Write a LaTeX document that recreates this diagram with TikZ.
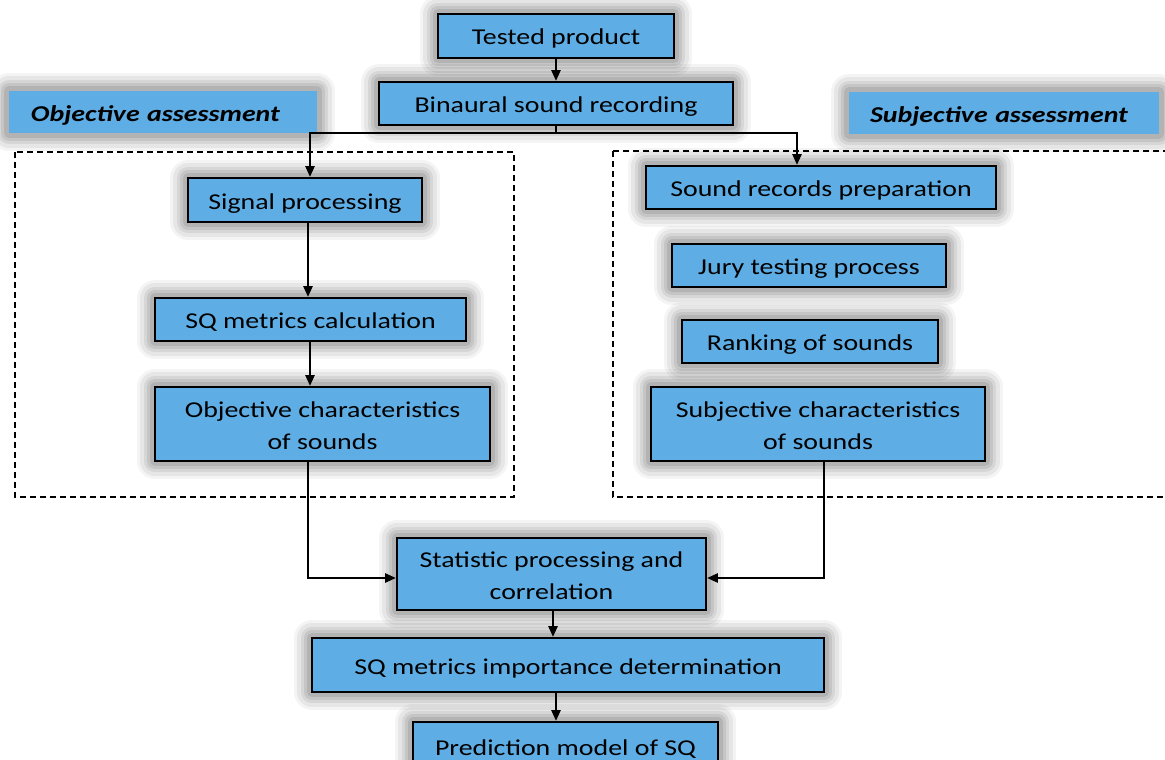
\documentclass[tikz,border=0pt]{standalone}
\usepackage{fontspec}
\setmainfont{Carlito}[FakeStretch=1.23]
\usetikzlibrary{arrows.meta}
\definecolor{boxblue}{RGB}{94,173,228}
\tikzset{
  shad/.style={
    preaction={draw=black,draw opacity=0.045,line width=27pt,line join=round},
    preaction={draw=black,draw opacity=0.06,line width=22pt,line join=round},
    preaction={draw=black,draw opacity=0.07,line width=17pt,line join=round},
    preaction={draw=black,draw opacity=0.08,line width=12pt,line join=round},
    preaction={draw=black,draw opacity=0.09,line width=7pt,line join=round}},
  flowbox/.style={shad,rectangle,fill=boxblue,draw=black,line width=1.8pt,
    inner sep=0pt,align=center,font=\fontsize{17pt}{24pt}\selectfont},
  onel/.style={text height=14.5pt,text depth=1pt},
  twol/.style={text height=38.5pt,text depth=1pt},
  headlabel/.style={shad,rectangle,fill=boxblue,inner ysep=0pt,align=left,onel,
    minimum height=31.5pt,font=\fontsize{17pt}{22pt}\selectfont\bfseries\itshape},
  arr/.style={line width=1.1pt,-{Triangle[length=8pt,width=7pt]}},
  conn/.style={line width=1.1pt},
  dashbox/.style={draw=black,line width=0.9pt,dash pattern=on 4.5pt off 3pt}
}
\begin{document}
\begin{tikzpicture}[x=0.75pt,y=-0.75pt]
\useasboundingbox (0,0) rectangle (1165,760);
\draw[dashbox] (15,152) rectangle (514,497);
\draw[dashbox] (613,151) rectangle (1180,497);

\node[headlabel,text width=198pt,inner xsep=16.5pt] (objlab) at (163,112) {Objective assessment};
\node[headlabel,text width=201pt,inner xsep=15.75pt] (sublab) at (1004,113) {Subjective assessment};

\node[flowbox,onel,minimum width=177pt,minimum height=33pt] (tp) at (556,36) {Tested product};
\node[flowbox,onel,minimum width=265.5pt,minimum height=32.25pt] (bin) at (556,103.5) {Binaural sound recording};
\node[flowbox,onel,minimum width=175.5pt,minimum height=33pt] (sig) at (305,200) {Signal processing};
\node[flowbox,onel,minimum width=233.25pt,minimum height=32.25pt] (sqc) at (310.5,319.5) {SQ metrics calculation};
\node[flowbox,twol,minimum width=251.25pt,minimum height=55.5pt] (objc) at (322.5,424) {Objective characteristics\\of sounds};
\node[flowbox,onel,minimum width=262.5pt,minimum height=32.25pt] (srp) at (821,187.5) {Sound records preparation};
\node[flowbox,onel,minimum width=205.5pt,minimum height=32.25pt] (jury) at (809,265.5) {Jury testing process};
\node[flowbox,onel,minimum width=192pt,minimum height=32.25pt] (rank) at (810,341.5) {Ranking of sounds};
\node[flowbox,twol,minimum width=250.5pt,minimum height=55.5pt] (subc) at (818,424) {Subjective characteristics\\of sounds};
\node[flowbox,twol,minimum width=231.75pt,minimum height=54pt] (stat) at (551.5,574) {Statistic processing and\\correlation};
\node[flowbox,onel,minimum width=384pt,minimum height=40.5pt] (imp) at (568,665) {SQ metrics importance determination};
\node[flowbox,onel,minimum width=228.75pt,minimum height=36pt] (pred) at (565.5,746) {Prediction model of SQ};

\coordinate (j) at (556,133);
\draw[arr] (tp.south) -- (bin.north);
\draw[conn] (bin.south) -- (j);
\draw[arr] (j) -| (310,0 |- sig.north);
\draw[arr] (j) -| (797,0 |- srp.north);
\draw[arr] (308,0 |- sig.south) -- (308,0 |- sqc.north);
\draw[arr] (310,0 |- sqc.south) -- (310,0 |- objc.north);
\draw[arr] (308,0 |- objc.south) |- (stat.west |- 0,578);
\draw[arr] (824,0 |- subc.south) |- (stat.east |- 0,578);
\draw[arr] (553,0 |- stat.south) -- (553,0 |- imp.north);
\draw[arr] (556,0 |- imp.south) -- (556,0 |- pred.north);
\end{tikzpicture}
\end{document}
